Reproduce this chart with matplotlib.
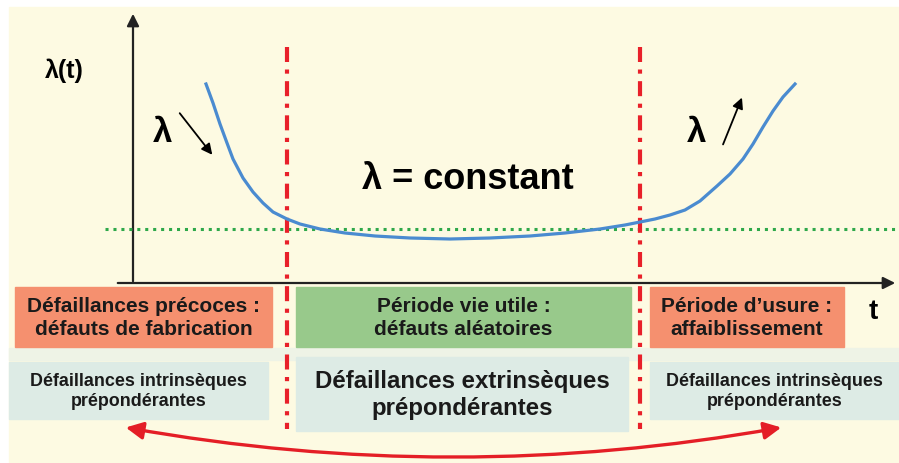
import numpy as np
import matplotlib.pyplot as plt
from matplotlib.patches import Rectangle, FancyArrowPatch

# Bathtub curve (pixel coordinates, y down)
curve_x = [206, 213, 220, 227, 233, 243, 253, 263, 273, 287, 300, 320, 345, 375,
           410, 450, 490, 530, 565, 600, 625, 640, 655, 670, 685, 700, 717,
           730, 743, 753, 763, 773, 783, 795]
curve_y = [85, 104, 125, 144, 160, 179, 193, 204, 213, 220, 225, 230, 234, 237,
           239, 240, 239, 237, 234, 230, 226, 223, 220, 216, 211, 202, 187,
           175, 160, 145, 128, 112, 98, 85]

green_level = 230
boundaries = [287, 640]

top_boxes = ["Défaillances précoces :\ndéfauts de fabrication",
             "Période vie utile :\ndéfauts aléatoires",
             "Période d’usure :\naffaiblissement"]
top_box_x = [(15, 272), (296, 631), (650, 844)]
top_colors = ["#F5906F", "#98C98B", "#F5906F"]

bottom_boxes = ["Défaillances intrinsèques\nprépondérantes",
                "Défaillances extrinsèques\nprépondérantes",
                "Défaillances intrinsèques\nprépondérantes"]
bottom_box_x = [(9, 268), (296, 628), (650, 899)]
bottom_box_y = [(363, 420), (358, 432), (363, 420)]
bottom_sizes = [12.9, 17.3, 12.9]

plt.rcParams['font.family'] = ['Liberation Sans', 'DejaVu Sans']

fig = plt.figure(figsize=(8.99, 4.64), dpi=100)
ax = fig.add_axes([0, 0, 1, 1])
ax.set_xlim(0, 899)
ax.set_ylim(464, 0)
ax.axis('off')

# background
ax.add_patch(Rectangle((9, 8), 890, 456, color='#FDFAE2', zorder=0))
ax.add_patch(Rectangle((9, 349), 890, 12, color='#EEF3E6', zorder=0))

# axes of the diagram
ax.annotate('', xy=(133, 12), xytext=(133, 285),
            arrowprops=dict(arrowstyle='-|>', color='#222222', lw=1.6, mutation_scale=18))
ax.annotate('', xy=(898, 284), xytext=(115, 284),
            arrowprops=dict(arrowstyle='-|>', color='#222222', lw=1.6, mutation_scale=18))
ax.text(64, 71, 'λ(t)', fontsize=18, fontweight='bold', ha='center', va='center')
ax.text(873, 312, 't', fontsize=20, fontweight='bold', ha='center', va='center')

# boxes
for (x0, x1), label, c in zip(top_box_x, top_boxes, top_colors):
    ax.add_patch(Rectangle((x0, 288), x1 - x0, 60, color=c, zorder=1))
    ax.text((x0 + x1) / 2, 318, label, fontsize=15, fontweight='bold',
            ha='center', va='center', color='#1A1A1A', linespacing=1.3, zorder=2)
for (x0, x1), (y0, y1), label, s in zip(bottom_box_x, bottom_box_y, bottom_boxes, bottom_sizes):
    ax.add_patch(Rectangle((x0, y0), x1 - x0, y1 - y0, color='#DDEBE5', zorder=1))
    ax.text((x0 + x1) / 2, (y0 + y1) / 2, label, fontsize=s, fontweight='bold',
            ha='center', va='center', color='#1A1A1A', linespacing=1.22, zorder=2)

# reference lines
ax.plot([105, 899], [green_level, green_level], color='#2EA84A', lw=2.2,
        linestyle=(0, (1, 1.6)), zorder=3)
for bx in boundaries:
    ax.plot([bx, bx], [48, 430], color='#E8202A', lw=3,
            linestyle=(0, (3.6, 1.8, 1.0, 1.8)), zorder=3)

# the curve
ax.plot(curve_x, curve_y, color='#4A8BD0', lw=2.3, zorder=4)

# lambda annotations
ax.text(163, 133, 'λ', fontsize=25, fontweight='bold', ha='center', va='center')
ax.annotate('', xy=(214, 158), xytext=(178, 112),
            arrowprops=dict(arrowstyle='-|>', color='black', lw=1.3, mutation_scale=16))
ax.text(697, 133, 'λ', fontsize=25, fontweight='bold', ha='center', va='center')
ax.annotate('', xy=(743, 96), xytext=(722, 148),
            arrowprops=dict(arrowstyle='-|>', color='black', lw=1.3, mutation_scale=16))
ax.text(468, 180, 'λ = constant', fontsize=26, fontweight='bold', ha='center', va='center')

# red double arrow at the bottom
ax.add_patch(FancyArrowPatch((123, 428), (784, 428), connectionstyle='arc3,rad=0.09',
                             arrowstyle='<|-|>', color='#E41E26', lw=2.4,
                             mutation_scale=26, zorder=5))

fig.savefig('out.png', dpi=100)
